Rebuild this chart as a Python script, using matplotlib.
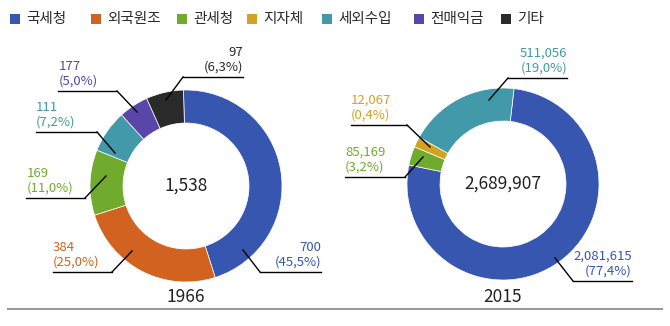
import matplotlib
matplotlib.use('Agg')
import matplotlib.pyplot as plt
from matplotlib.patches import Rectangle

plt.rcParams['font.family'] = ['Noto Sans CJK KR', 'DejaVu Sans']

# 범례 항목과 색상
categories = ['국세청', '외국원조', '관세청', '지자체', '세외수입', '전매익금', '기타']
colors = ['#3756b0', '#d2621f', '#70ab2d', '#d3a220', '#4299a9', '#5a46a8', '#2b2a2a']

# 1966년
cats_1966 = ['국세청', '외국원조', '관세청', '세외수입', '전매익금', '기타']
amount_1966 = [700, 384, 169, 111, 177, 97]
pct_1966 = [45.5, 25.0, 11.0, 7.2, 5.0, 6.3]
total_1966 = 1538

# 2015년
cats_2015 = ['국세청', '관세청', '지자체', '세외수입']
amount_2015 = [2081615, 85169, 12067, 511056]
pct_2015 = [77.4, 3.2, 0.4, 19.0]
# 원본 그림에서 지자체 조각은 실제 비율보다 넓게 그려져 있음
share_2015 = [77.4, 3.2, 1.8, 19.0]
total_2015 = 2689907

W, H = 670, 326

# 범례 네모 위치 (픽셀 x)
legend_x = [10, 91, 177, 247, 322, 414, 501]

# 라벨 배치: (x, 정렬, 선 y, 선 시작 x, 선 끝 x, 꺾임 x, 앵커 x, 앵커 y)  -- 픽셀 좌표, 위에서부터
layout_1966 = {
    '국세청': (321, 'right', 272, 260, 321, 260, 243, 250),
    '외국원조': (53, 'left', 272, 53, 112, 112, 132, 251),
    '관세청': (27, 'left', 198, 26, 85, 85, 106, 176),
    '세외수입': (36, 'left', 132, 36, 97, 97, 115, 153),
    '전매익금': (59, 'left', 91, 58, 117, 117, 137, 112),
    '기타': (243, 'right', 77, 183, 243, 183, 166, 100),
}
layout_2015 = {
    '국세청': (632, 'right', 281, 573, 632, 573, 555, 258),
    '관세청': (345, 'left', 177, 345, 405, 405, 423, 157),
    '지자체': (351, 'left', 125, 351, 407, 407, 430, 147),
    '세외수입': (567, 'right', 78, 508, 567, 508, 489, 100),
}


def color_of(cat):
    return colors[categories.index(cat)]


def fmt_pct(p):
    return f'{p:.1f}%'.replace('.', ',')


def draw_donut(ax, cats, shares, amounts, pcts, total, year, center, start, layout):
    cx, cy = center
    ax.pie(shares, colors=[color_of(c) for c in cats], startangle=start,
           counterclock=False, radius=96, center=(cx, H - cy), frame=True,
           wedgeprops=dict(width=33, linewidth=0.5, edgecolor='white'))
    ax.text(cx, H - cy, f'{total:,}', ha='center', va='center',
            fontsize=12.5, color='#222222', fontweight='light')
    ax.text(cx, H - 297, str(year), ha='center', va='center',
            fontsize=12.5, color='#222222', fontweight='light')
    for cat, amt, p in zip(cats, amounts, pcts):
        tx, ha, ly, x0, x1, ex, axx, ayy = layout[cat]
        ax.text(tx, H - ly + 3, f'{amt:,}\n({fmt_pct(p)})', ha=ha, va='bottom',
                fontsize=9.5, color=color_of(cat), linespacing=1.2, fontweight='light')
        ax.plot([x0, x1], [H - ly, H - ly], color='black', lw=1.0)
        ax.plot([ex, axx], [H - ly, H - ayy], color='black', lw=1.0)


fig = plt.figure(figsize=(W / 100, H / 100), dpi=100)
ax = fig.add_axes([0, 0, 1, 1])

draw_donut(ax, cats_1966, pct_1966, amount_1966, pct_1966, total_1966, 1966,
           (186, 186), 91.5, layout_1966)
draw_donut(ax, cats_2015, share_2015, amount_2015, pct_2015, total_2015, 2015,
           (503, 184), 83.4, layout_2015)

# 하단 구분선
ax.plot([8, 662], [H - 309, H - 309], color='#9a9a9a', lw=1.5)

# 범례
for x, cat, c in zip(legend_x, categories, colors):
    ax.add_patch(Rectangle((x, H - 24), 10, 10, facecolor=c, edgecolor='none'))
    ax.text(x + 16, H - 19, cat, ha='left', va='center', fontsize=10.5, color='#2a2a2a')

ax.set_xlim(0, W)
ax.set_ylim(0, H)
ax.set_aspect('auto')
ax.axis('off')

fig.savefig('out.png', dpi=100)
